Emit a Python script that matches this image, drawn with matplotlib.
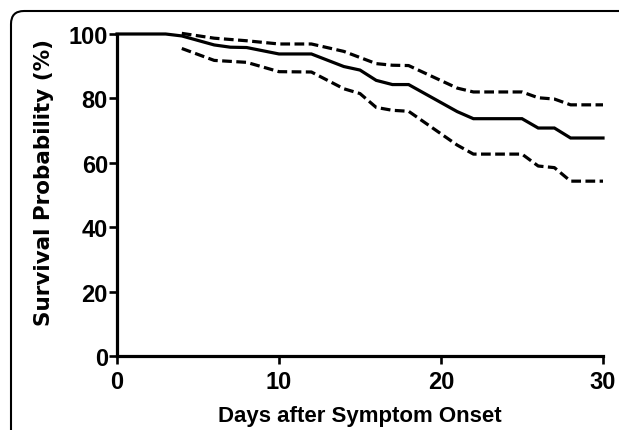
import matplotlib
matplotlib.use("Agg")
import matplotlib.pyplot as plt
from matplotlib.patches import FancyBboxPatch
from matplotlib.transforms import IdentityTransform

# Kaplan-Meier estimate (knot points) and 95% confidence band
surv_days = [0, 3, 4, 5, 6, 7, 8, 10, 12, 14, 15, 16, 17, 18, 21, 22, 25, 26, 27, 28, 30]
surv_vals = [100, 100, 99.4, 98.0, 96.6, 95.9, 95.8, 93.8, 93.8, 89.9, 88.8, 85.6, 84.3, 84.3,
             75.9, 73.7, 73.7, 70.8, 70.8, 67.7, 67.7]

upper_days = [4, 6, 8, 10, 12, 14, 16, 17, 18, 21, 22, 25, 26, 27, 28, 30]
upper_vals = [100.2, 98.7, 97.9, 96.9, 96.9, 94.6, 90.8, 90.3, 90.2, 83.2, 82.0, 82.0, 80.2, 79.8, 78.0, 78.0]

lower_days = [4, 6, 8, 10, 12, 14, 15, 16, 17, 18, 21, 22, 25, 26, 27, 28, 30]
lower_vals = [95.5, 91.8, 91.2, 88.3, 88.2, 83.0, 81.5, 77.2, 76.3, 76.0, 65.5, 62.7, 62.7, 59.0, 58.5, 54.3, 54.3]

x_ticks = [0, 10, 20, 30]
y_ticks = [0, 20, 40, 60, 80, 100]
x_label = "Days after Symptom Onset"
y_label = "Survival Probability (%)"

plt.rcParams['lines.scale_dashes'] = False

W, H = 619, 431
fig = plt.figure(figsize=(W / 100, H / 100), dpi=100)
ax = fig.add_axes([117 / W, 1 - 357 / H, (603 - 117) / W, (357 - 35) / H])

ax.plot(surv_days, surv_vals, color='black', lw=2.3, clip_on=False, solid_joinstyle='miter')
for d, v in ((upper_days, upper_vals), (lower_days, lower_vals)):
    ax.plot(d, v, color='black', lw=2.3, dashes=(7, 3.2), clip_on=False, dash_capstyle='butt')

ax.set_xlim(0, 30)
ax.set_ylim(0, 100)
ax.set_xticks(x_ticks)
ax.set_yticks(y_ticks)
for s in ('top', 'right'):
    ax.spines[s].set_visible(False)
for s in ('left', 'bottom'):
    ax.spines[s].set_linewidth(2.3)
ax.tick_params(axis='y', length=5.5, width=1.9, pad=1)
ax.tick_params(axis='x', length=6, width=1.9, pad=4)
for lab in ax.get_xticklabels() + ax.get_yticklabels():
    lab.set_fontfamily('Liberation Sans')
    lab.set_fontweight('bold')
    lab.set_fontsize(17)

fig.text(360 / W, 1 - 417 / H, x_label, ha='center', va='center',
         fontfamily='Liberation Sans', fontweight='bold', fontsize=16)
fig.text(44 / W, 1 - 183 / H, y_label, ha='center', va='center', rotation=90,
         fontfamily='DejaVu Sans', fontweight='bold', fontsize=15.5)

border = FancyBboxPatch((11, -60), 800, (H - 12) + 60,
                        boxstyle="round,pad=0,rounding_size=13",
                        transform=IdentityTransform(), fill=False,
                        edgecolor='black', lw=1.5)
fig.add_artist(border)

fig.savefig("out.png", dpi=100)
